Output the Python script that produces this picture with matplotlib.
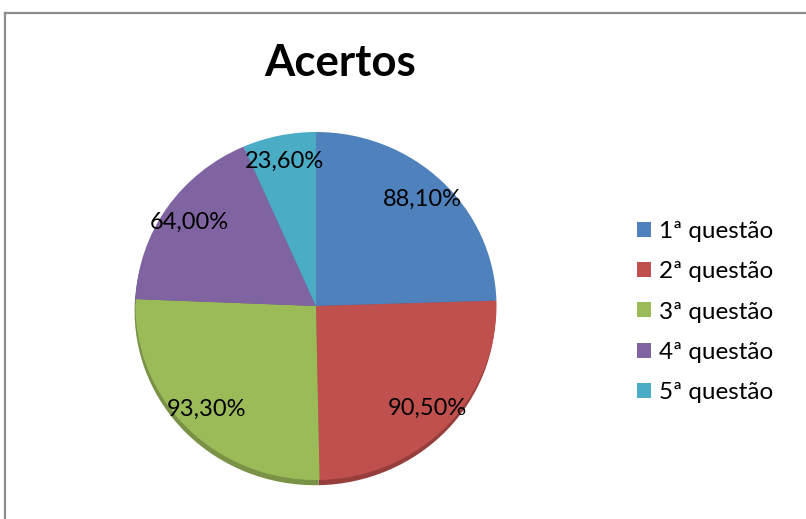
import matplotlib.pyplot as plt
from matplotlib.lines import Line2D
import numpy as np

plt.rcParams["font.family"] = ["Lato", "DejaVu Sans"]

W, H = 806, 519

categories = ["1ª questão", "2ª questão", "3ª questão", "4ª questão", "5ª questão"]
acertos = [88.1, 90.5, 93.3, 64.0, 23.6]
value_labels = ["88,10%", "90,50%", "93,30%", "64,00%", "23,60%"]
COLORS = ("#4F81BD", "#C0504D", "#9BBB59", "#8064A2", "#4BACC6")


def darker(hex_color, f=0.78):
    c = np.array([int(hex_color[i:i + 2], 16) for i in (1, 3, 5)]) / 255
    return tuple(c * f)


fig = plt.figure(figsize=(W / 100, H / 100), dpi=100)

# pie area in pixels: center (316, 306), radii 180 x 174
cx, cy, rx, ry = 316, 306, 180.5, 174
pad = 1.1
ax = fig.add_axes([(cx - rx * pad) / W, 1 - (cy + ry * pad) / H,
                   2 * rx * pad / W, 2 * ry * pad / H])

# shadow / thickness
ax.pie(acertos, colors=[darker(c) for c in COLORS], startangle=90, counterclock=False,
       center=(-0.005, -0.03), radius=1, wedgeprops={'linewidth': 0})
labels_iter = iter(value_labels)
wedges, _, autotexts = ax.pie(acertos, colors=COLORS, startangle=90, counterclock=False,
                              radius=1, wedgeprops={'linewidth': 0},
                              autopct=lambda p: next(labels_iter), pctdistance=0.85,
                              textprops={'fontsize': 17, 'color': 'black'})
ax.set_xlim(-pad, pad)
ax.set_ylim(-pad, pad)
ax.set_aspect('auto')

fig.text(340 / W, 1 - 63 / H, "Acertos", fontsize=31.5, fontweight='bold',
         ha='center', va='center')

fig.legend(wedges, categories, loc='center left', bbox_to_anchor=(637 / W, 1 - 312 / H),
           frameon=False, fontsize=17.5, handlelength=0.58, handleheight=0.58,
           labelspacing=0.79, handletextpad=0.34, borderpad=0, borderaxespad=0)

# chart border
fig.add_artist(Line2D([5 / W, 5 / W], [0, 1 - 13 / H], transform=fig.transFigure,
                      color="#8c8c8c", lw=1.6))
fig.add_artist(Line2D([5 / W, 1], [1 - 13 / H, 1 - 13 / H], transform=fig.transFigure,
                      color="#8c8c8c", lw=1.6))

plt.savefig("out.png", dpi=100)
